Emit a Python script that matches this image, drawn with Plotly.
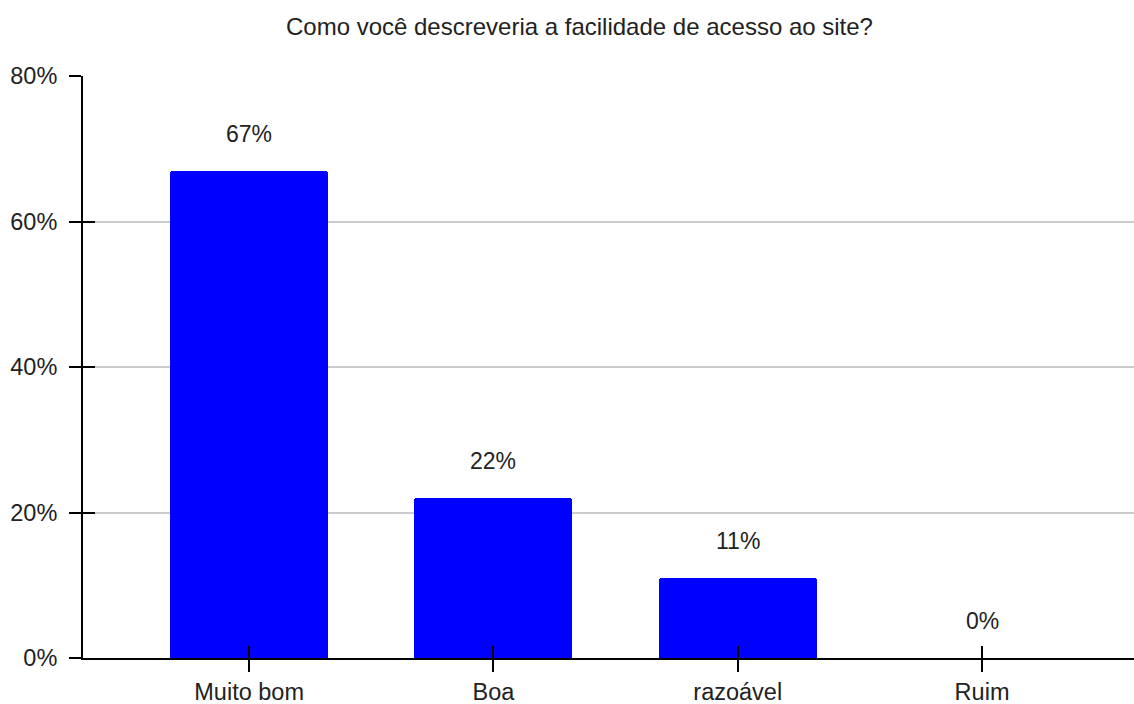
import plotly.graph_objects as go

# Survey answers and their share of responses (%)
categories = ["Muito bom", "Boa", "razoável", "Ruim"]
shares = [67, 22, 11, 0]
value_labels = ["67%", "22%", "11%", "0%"]
y_ticks = [0, 20, 40, 60, 80]
y_tick_labels = ["0%", "20%", "40%", "60%", "80%"]

FONT = "Arial, 'Liberation Sans', sans-serif"
TEXT = "#222222"
X_RANGE = [-0.68, 3.622]
Y_RANGE = [0, 80]

fig = go.Figure()

fig.add_trace(go.Bar(
    x=categories,
    y=shares,
    marker=dict(color="#0000ff", line=dict(width=0), cornerradius=3),
    width=0.647,
    hoverinfo="skip",
))

# Invisible trace on the overlay axes so the crossing tick marks are drawn
fig.add_trace(go.Scatter(
    x=list(range(len(categories))),
    y=shares,
    mode="markers",
    marker=dict(opacity=0),
    xaxis="x2",
    yaxis="y2",
    hoverinfo="skip",
    showlegend=False,
))

for cat, val, lab in zip(categories, shares, value_labels):
    fig.add_annotation(
        x=cat, y=val, text=lab, showarrow=False,
        yanchor="middle", yshift=37,
        font=dict(family=FONT, size=23, color=TEXT),
    )

fig.update_layout(
    width=1134,
    height=704,
    margin=dict(l=83, r=0, t=76, b=46, autoexpand=False),
    paper_bgcolor="white",
    plot_bgcolor="white",
    showlegend=False,
    title=dict(
        text="Como você descreveria a facilidade de acesso ao site?",
        x=0.511, xanchor="center", y=0.962, yanchor="middle",
        font=dict(family=FONT, size=24, color=TEXT),
    ),
    xaxis=dict(
        type="category",
        range=X_RANGE,
        automargin=False,
        showline=True, linecolor="black", linewidth=2,
        ticks="outside", ticklen=12, tickwidth=2, tickcolor="black",
        tickfont=dict(family=FONT, size=23.5, color=TEXT),
        ticklabelstandoff=0,
        showgrid=False, zeroline=False,
    ),
    yaxis=dict(
        range=Y_RANGE,
        automargin=False,
        tickvals=y_ticks, ticktext=y_tick_labels,
        showline=True, linecolor="black", linewidth=2,
        ticks="outside", ticklen=12, tickwidth=2, tickcolor="black",
        tickfont=dict(family=FONT, size=23.5, color=TEXT),
        ticklabelstandoff=7,
        showgrid=True, gridcolor="#cccccc", gridwidth=2,
        zeroline=False,
    ),
    xaxis2=dict(
        overlaying="x", anchor="y2", range=X_RANGE,
        automargin=False,
        tickvals=list(range(len(categories))),
        ticks="inside", ticklen=12, tickwidth=2, tickcolor="black",
        showticklabels=False, showgrid=False, zeroline=False, showline=False,
    ),
    yaxis2=dict(
        overlaying="y", anchor="x2", side="left", range=Y_RANGE,
        automargin=False,
        tickvals=y_ticks,
        ticks="inside", ticklen=12, tickwidth=2, tickcolor="black",
        showticklabels=False, showgrid=False, zeroline=False, showline=False,
    ),
    bargap=0,
)

fig.write_html("out.html")
